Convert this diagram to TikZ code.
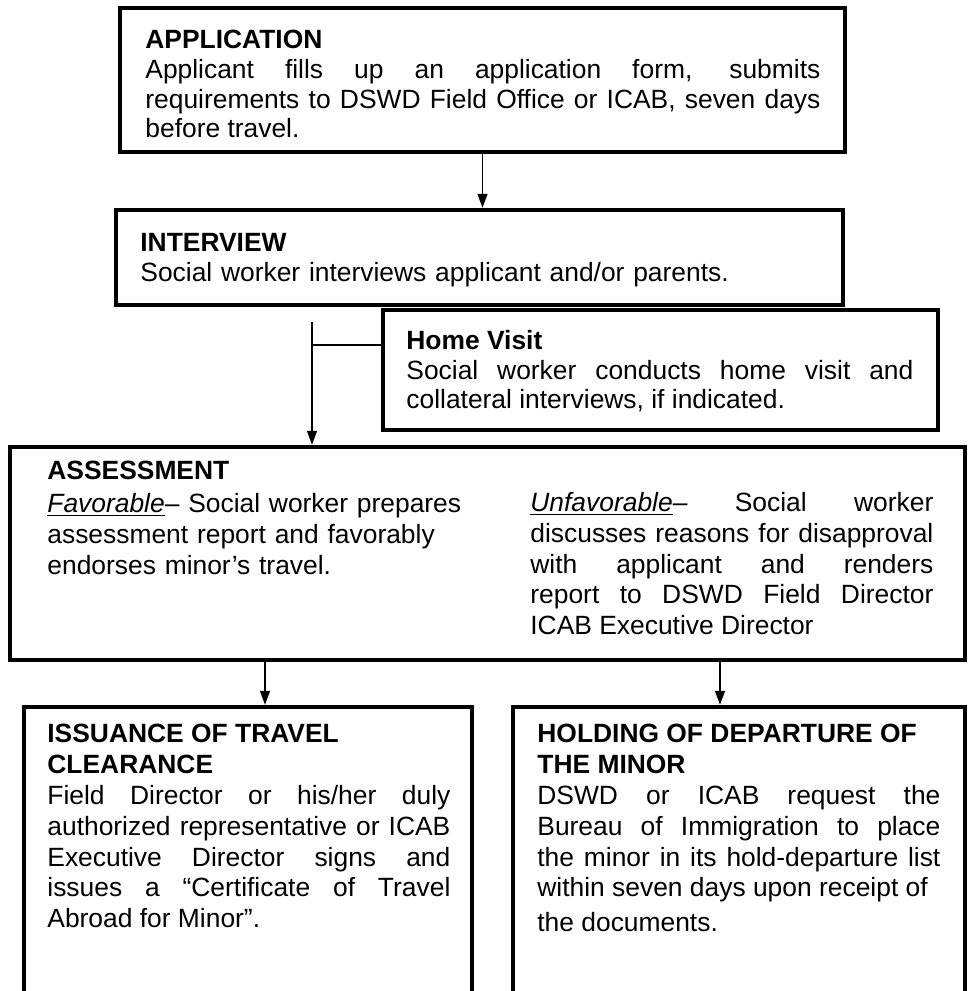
\documentclass[tikz,border=0pt]{standalone}
\usepackage{fontspec}
\setmainfont{Liberation Sans}
\usetikzlibrary{positioning,arrows.meta,fit,calc}
\tolerance=10000
\hbadness=10000

\begin{document}
\begin{tikzpicture}[
  x=0.5pt, y=-0.5pt,
  every node/.style={font=\fontsize{13.2}{14.8}\selectfont},
  loose/.style={font=\fontsize{13.2}{15.4}\selectfont},
  %% Box style
  stepbox/.style={
    draw=black, line width=2.2pt, inner sep=0pt,
  },
  %% Text styles
  bodytxt/.style={
    anchor=north west, inner sep=0pt, align=justify, text width=#1,
  },
  lefttxt/.style={
    anchor=north west, inner sep=0pt, align=left, text width=#1,
  },
  %% Connector styles
  conn/.style={draw=black, line width=0.7pt},
  arr/.style={conn, -{Triangle[length=7pt,width=5pt]}},
]

\useasboundingbox (0,0) rectangle (976,991);
\clip (0,0) rectangle (976,991);

%% =============================================================
%%  APPLICATION / INTERVIEW
%% =============================================================
\node[stepbox, fit={(120,8) (845,152)}] (app) {};
\node[bodytxt=337.5pt] (apptxt) at (145,30)
  {{\bfseries APPLICATION}\\
   Applicant fills up an application form, submits\linebreak
   requirements to DSWD Field Office or ICAB, seven days\linebreak
   before travel.};

\node[stepbox, fit={(116,210) (843,305)}] (int) {};
\node[lefttxt=340pt] (inttxt) at (140,233)
  {{\bfseries INTERVIEW}\\
   Social worker interviews applicant and/or parents.};

\draw[arr] (app.south) -- (app.south |- int.north);

%% =============================================================
%%  HOME VISIT (side branch)
%% =============================================================
\node[stepbox, fit={(383,310) (938,430)}] (home) {};
\node[bodytxt=253.5pt] (hometxt) at (406,330)
  {{\bfseries Home Visit}\\
   Social worker conducts home visit and\linebreak
   collateral interviews, if indicated.};

%% =============================================================
%%  ASSESSMENT
%% =============================================================
\node[stepbox, fit={(10,447) (965,660)}] (ass) {};
\node[lefttxt=215pt, loose] (favtxt) at (47,461)
  {{\bfseries ASSESSMENT}\\[1pt]
   \underline{\textit{Favorable}}– Social worker prepares\\
   assessment report and favorably\\
   endorses minor’s travel.};
\node[bodytxt=201.5pt, loose] (unfavtxt) at (530,492)
  {\underline{\textit{Unfavorable}}– Social worker\linebreak
   discusses reasons for disapproval\linebreak
   with applicant and renders\linebreak
   report to DSWD Field Director\linebreak
   ICAB Executive Director};

\coordinate (splittop) at (312,322);
\coordinate (split) at (312,345);
\draw[arr] (splittop) -- (splittop |- ass.north);
\draw[conn] (split) -- (split -| home.west);

%% =============================================================
%%  OUTCOMES
%% =============================================================
\node[stepbox, fit={(24,707) (472,1010)}] (iss) {};
\node[bodytxt=201.5pt, loose] (isstxt) at (47,724)
  {{\bfseries ISSUANCE OF TRAVEL\\ CLEARANCE}\\
   Field Director or his/her duly\linebreak
   authorized representative or ICAB\linebreak
   Executive Director signs and\linebreak
   issues a “Certificate of Travel\linebreak
   Abroad for Minor”.};

\node[stepbox, fit={(513,707) (965,1010)}] (hold) {};
\node[bodytxt=201.5pt, loose] (holdtxt) at (537,724)
  {{\bfseries HOLDING OF DEPARTURE OF\\ THE MINOR}\\
   DSWD or ICAB request the\linebreak
   Bureau of Immigration to place\linebreak
   the minor in its hold-departure list\linebreak
   within seven days upon receipt of\\[2pt]
   the documents.};

\coordinate (isscol) at (265,0);
\coordinate (holdcol) at (720,0);
\draw[arr] (ass.south -| isscol) -- (iss.north -| isscol);
\draw[arr] (ass.south -| holdcol) -- (hold.north -| holdcol);

\end{tikzpicture}
\end{document}
